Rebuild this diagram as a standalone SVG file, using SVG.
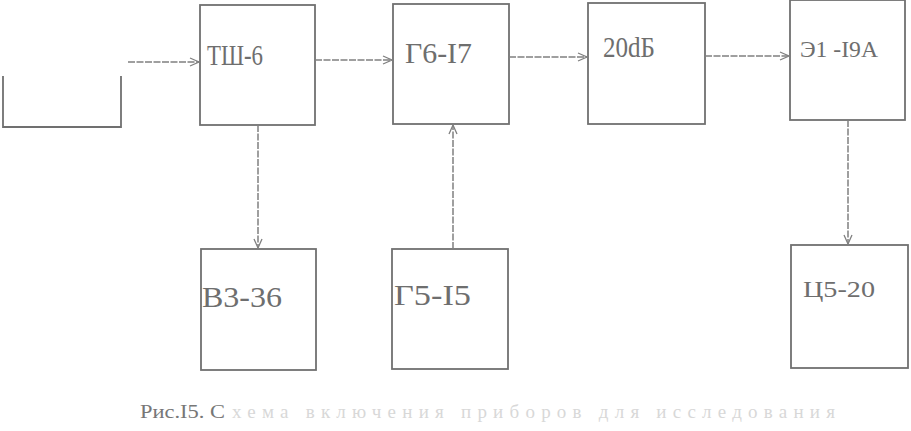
<svg xmlns="http://www.w3.org/2000/svg" width="911" height="431" viewBox="0 0 911 431">
<style>
.box{fill:none;stroke:#707070;stroke-width:1.8}
.lbl{font-family:"Liberation Serif",serif;font-size:29px;fill:#6e6e6e}
.sm{font-size:24px}
.con{fill:none;stroke:#808080;stroke-width:1.5;stroke-dasharray:7 1.5}
.cap{font-family:"Liberation Serif",serif;font-size:19px;fill:#777}
.faint{fill:#d8d8d8}
</style>
<defs>
<marker id="ah" markerWidth="12" markerHeight="10" refX="10" refY="5" orient="auto" markerUnits="userSpaceOnUse">
<path d="M1,1 L10,5 L1,9" fill="none" stroke="#808080" stroke-width="1.3"/>
</marker>
</defs>
<rect width="911" height="431" fill="#fff"/>
<g id="source"><path class="box" d="M3,76 V127 H121 V76"/></g>
<g id="tsh6"><rect class="box" x="200" y="5" width="115" height="120"/><text class="lbl" x="207" y="65" textLength="56" lengthAdjust="spacingAndGlyphs">ТШ-6</text></g>
<g id="g6-17"><rect class="box" x="393" y="4" width="116" height="120"/><text class="lbl" x="405" y="63" textLength="67" lengthAdjust="spacingAndGlyphs">Г6-I7</text></g>
<g id="att20"><rect class="box" x="588" y="3" width="117" height="121"/><text class="lbl" x="603" y="57" textLength="52" lengthAdjust="spacingAndGlyphs">20dБ</text></g>
<g id="e1-19a"><rect class="box" x="790" y="0" width="115" height="120"/><text class="lbl sm" x="800" y="57" textLength="78" lengthAdjust="spacingAndGlyphs">Э1 -I9А</text></g>
<g id="v3-36"><rect class="box" x="201" y="249" width="115" height="121"/><text class="lbl" x="202" y="307" textLength="80" lengthAdjust="spacingAndGlyphs">В3-36</text></g>
<g id="g5-15"><rect class="box" x="392" y="249" width="116" height="120"/><text class="lbl" x="394" y="305" textLength="77" lengthAdjust="spacingAndGlyphs">Г5-I5</text></g>
<g id="ts5-20"><rect class="box" x="791" y="245" width="117" height="123"/><text class="lbl sm" x="803" y="297" textLength="72" lengthAdjust="spacingAndGlyphs">Ц5-20</text></g>
<g id="connectors">
<line class="con" x1="128" y1="62" x2="199" y2="62" marker-end="url(#ah)"/>
<line class="con" x1="315" y1="60" x2="392" y2="60" marker-end="url(#ah)"/>
<line class="con" x1="509" y1="57" x2="587" y2="57" marker-end="url(#ah)"/>
<line class="con" x1="705" y1="56" x2="789" y2="56" marker-end="url(#ah)"/>
<line class="con" x1="258" y1="125" x2="258" y2="248" marker-end="url(#ah)"/>
<line class="con" x1="453" y1="249" x2="453" y2="125" marker-end="url(#ah)"/>
<line class="con" x1="848" y1="120" x2="848" y2="244" marker-end="url(#ah)"/>
</g>
<text class="cap" x="140" y="418" textLength="85" lengthAdjust="spacingAndGlyphs">Рис.I5. С</text>
<text class="cap faint" x="232" y="418" textLength="603" lengthAdjust="spacing">хема включения приборов для исследования</text>
</svg>
